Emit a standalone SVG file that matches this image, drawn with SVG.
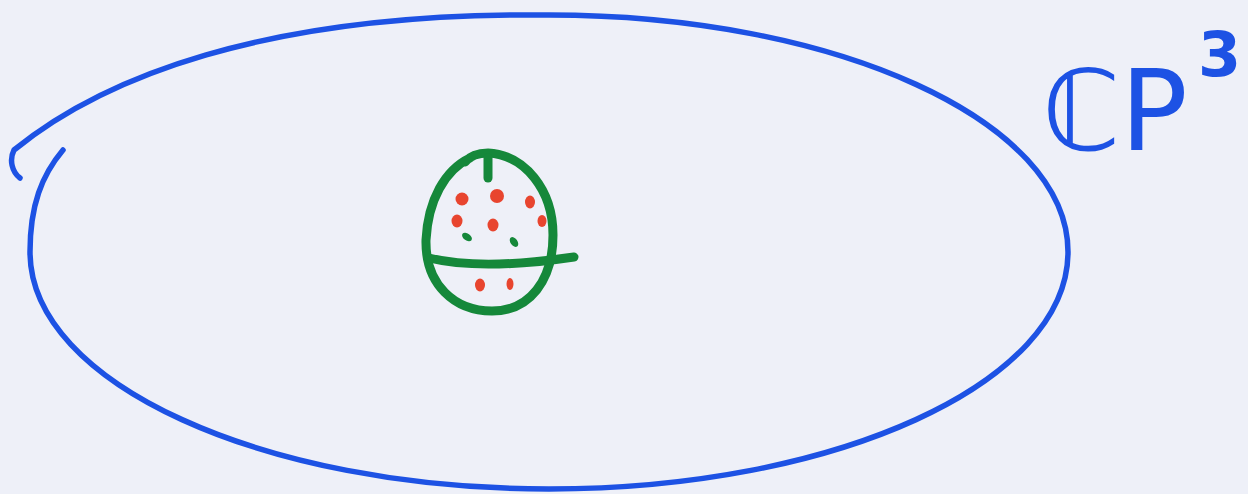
<svg xmlns="http://www.w3.org/2000/svg" width="1248" height="494" viewBox="0 0 1248 494">
<style>
.blue{fill:none;stroke:#1d52e4;stroke-linecap:round;stroke-linejoin:round}
.green{fill:none;stroke:#15883a;stroke-width:9;stroke-linecap:round;stroke-linejoin:round}
.red{fill:#e8452f}
.gdot{fill:#15883a}
.lbl{fill:#1d52e4;font-family:"DejaVu Sans",sans-serif}
</style>
<rect width="1248" height="494" fill="#eef0f8"/>
<g id="space">
<path class="blue" stroke-width="5.5" d="M20,178 C12,172 9,160 14,150 C100,80 260,12 549,15 C835.6,15 1068,121 1068,252 C1068,383 835.6,489 549,489 C262.4,489 30,383 30,252 C30,205 42,175 63,150"/>
</g>
<g id="sphere">
<path class="green" d="M470,158 C445,170 428,200 426,240 C425,285 455,311 492,311 C530,311 553,280 553,235 C553,190 525,155 488,153 C478,153 470,156 465,162"/>
<path class="green" d="M488,158 L488,178"/>
<path class="green" d="M429,258 C470,268 520,265 574,257"/>
<ellipse class="red" cx="462" cy="199" rx="6.5" ry="6.5"/>
<ellipse class="red" cx="497" cy="196" rx="7" ry="7"/>
<ellipse class="red" cx="530" cy="202" rx="5" ry="6.5"/>
<ellipse class="red" cx="457" cy="221" rx="5.5" ry="6.5"/>
<ellipse class="red" cx="493" cy="225" rx="5.5" ry="6.5"/>
<ellipse class="red" cx="542" cy="221" rx="4.5" ry="6"/>
<ellipse class="red" cx="480" cy="285" rx="5" ry="6.5"/>
<ellipse class="red" cx="510" cy="284" rx="3.5" ry="6"/>
<ellipse class="gdot" cx="467" cy="237" rx="5.5" ry="3.5" transform="rotate(35 467 237)"/>
<ellipse class="gdot" cx="514" cy="242" rx="5.5" ry="3.5" transform="rotate(55 514 242)"/>
</g>
<g id="label">
<text class="lbl" x="1042" y="150" font-size="112">ℂP</text>
<text class="lbl" x="1198" y="76" font-size="62" font-weight="bold">3</text>
</g>
</svg>
